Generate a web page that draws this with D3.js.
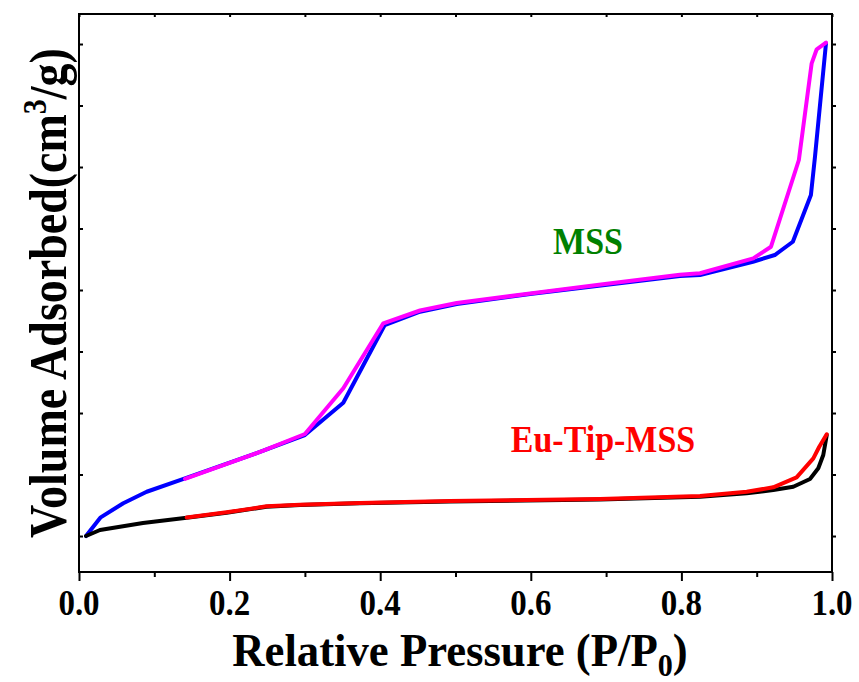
<!DOCTYPE html>
<html lang="en">
<head>
  <meta charset="utf-8">
  <title>N2 isotherms</title>
  <script src="https://d3js.org/d3.v7.min.js"></script>
  <style>
    body { margin: 0; background: #fff; }
    text { font-family: "Liberation Serif", "Times New Roman", serif; font-weight: bold; }
  </style>
</head>
<body>
<script>
// MSS adsorption branch (blue)
var mssAdsP = [0.0093, 0.0288, 0.0588, 0.0899, 0.1408, 0.2448, 0.300, 0.351, 0.406, 0.4529, 0.5016, 0.599, 0.6985, 0.798, 0.8247, 0.895, 0.924, 0.948, 0.972, 0.9774, 0.992];
var mssAdsV = [0, 30.4, 53.2, 72.0, 93.8, 138.7, 164.2, 216.7, 343.1, 364.7, 377.2, 393.5, 408.1, 422.8, 424.4, 446, 456.9, 478.5, 554.5, 616.7, 801.1];
// MSS desorption branch (magenta)
var mssDesP = [0.992, 0.9797, 0.973, 0.956, 0.919, 0.8955, 0.8247, 0.798, 0.6985, 0.599, 0.5016, 0.4529, 0.4041, 0.351, 0.300, 0.2448, 0.1408];
var mssDesV = [802.1, 791.4, 768.6, 611.4, 470.4, 451.5, 427.2, 425, 409.8, 394.3, 378.9, 366.7, 345.9, 240.2, 165.9, 138.7, 93];
// Eu-Tip-MSS adsorption branch (black)
var euAdsP = [0.0093, 0.0279, 0.085, 0.143, 0.196, 0.249, 0.2935, 0.373, 0.4927, 0.692, 0.8247, 0.8867, 0.922, 0.9486, 0.9708, 0.9818, 0.9884, 0.993];
var euAdsV = [0, 9.8, 21.1, 29.8, 37.9, 47.6, 50.4, 53.2, 56.1, 59.3, 63.9, 69.4, 74.8, 80.2, 92.7, 110.1, 131.7, 164.2];
// Eu-Tip-MSS desorption branch (red)
var euDesP = [0.993, 0.9831, 0.9752, 0.953, 0.922, 0.8867, 0.8247, 0.692, 0.4927, 0.373, 0.2935, 0.249, 0.196, 0.143];
var euDesV = [165.4, 145.2, 126.3, 95.4, 79.2, 72.0, 65.0, 60.2, 56.9, 53.7, 50.9, 48.3, 38.5, 30.1];

var xTicks = [0, 0.2, 0.4, 0.6, 0.8, 1.0];
var xMinorTicks = [0.1, 0.3, 0.5, 0.7, 0.9];
var yTicks = [0, 100, 200, 300, 400, 500, 600, 700, 800];

var width = 859, height = 682;
var margin = {top: 14, right: 27, bottom: 110, left: 79};

var svg = d3.select("body").append("svg")
  .attr("width", width)
  .attr("height", height);

var x = d3.scaleLinear().domain([0, 1]).range([margin.left, width - margin.right]);
var y = d3.scaleLinear().domain([-58.5, 848.8]).range([height - margin.bottom, margin.top]);

function zip(px, pv) {
  return px.map(function(p, i) { return [p, pv[i]]; });
}

var line = d3.line()
  .x(function(d) { return x(d[0]); })
  .y(function(d) { return y(d[1]); });

var series = [
  {data: zip(mssAdsP, mssAdsV), color: "#0000ff"},
  {data: zip(mssDesP, mssDesV), color: "#ff00ff"},
  {data: zip(euAdsP, euAdsV), color: "#000000"},
  {data: zip(euDesP, euDesV), color: "#ff0000"}
];

svg.selectAll("path.curve")
  .data(series)
  .enter()
  .append("path")
  .attr("class", "curve")
  .attr("d", function(d) { return line(d.data); })
  .attr("fill", "none")
  .attr("stroke", function(d) { return d.color; })
  .attr("stroke-width", 4)
  .attr("stroke-linejoin", "round")
  .attr("stroke-linecap", "round");

// axes (frame + ticks)
var x0 = x(0), x1 = x(1), yb = y.range()[0], yt = y.range()[1];

var bottom = svg.append("g").attr("transform", "translate(0," + yb + ")");
bottom.call(d3.axisBottom(x).tickValues(xTicks).tickSize(9).tickFormat(""));
bottom.append("g").call(d3.axisBottom(x).tickValues(xMinorTicks).tickSize(5).tickFormat(""));

svg.append("g").attr("transform", "translate(0," + yt + ")")
  .call(d3.axisBottom(x).tickValues(xTicks.concat(xMinorTicks)).tickSize(3).tickFormat(""));

svg.append("g").attr("transform", "translate(" + x0 + ",0)")
  .call(d3.axisRight(y).tickValues(yTicks).tickSize(4).tickFormat(""));

svg.append("g").attr("transform", "translate(" + x1 + ",0)")
  .call(d3.axisRight(y).tickValues(yTicks).tickSize(4).tickFormat(""));

svg.selectAll(".domain").remove();
svg.selectAll(".tick line").attr("stroke", "#000").attr("stroke-width", 2);

svg.append("rect")
  .attr("x", x0).attr("y", yt)
  .attr("width", x1 - x0).attr("height", yb - yt)
  .attr("fill", "none").attr("stroke", "#000").attr("stroke-width", 2);

// tick labels
svg.selectAll("text.xlab")
  .data(xTicks)
  .enter()
  .append("text")
  .attr("class", "xlab")
  .attr("transform", function(d) { return "translate(" + x(d) + ",615) scale(1,1.1)"; })
  .attr("text-anchor", "middle")
  .attr("font-size", "33px")
  .text(function(d) { return d3.format(".1f")(d); });

// axis titles
var xt = svg.append("text")
  .attr("transform", "translate(460,666) scale(1.04,1.08)")
  .attr("text-anchor", "middle")
  .attr("font-size", "43px");
xt.append("tspan").text("Relative Pressure (P/P");
xt.append("tspan").attr("font-size", "29px").attr("dy", 9).text("0");
xt.append("tspan").attr("dy", -9).text(")");

var yt2 = svg.append("text")
  .attr("transform", "translate(66,293) rotate(-90) scale(1,1.15)")
  .attr("text-anchor", "middle")
  .attr("font-size", "46px");
yt2.append("tspan").text("Volume Adsorbed(cm");
yt2.append("tspan").attr("font-size", "30px").attr("dy", -17).text("3");
yt2.append("tspan").attr("dy", 17).text("/g)");

// series labels
svg.append("text")
  .attr("transform", "translate(588,254) scale(1,1.12)")
  .attr("text-anchor", "middle")
  .attr("font-size", "34px")
  .attr("fill", "#008000")
  .text("MSS");

svg.append("text")
  .attr("transform", "translate(603,452) scale(1,1.12)")
  .attr("text-anchor", "middle")
  .attr("font-size", "34px")
  .attr("fill", "#ff0000")
  .text("Eu-Tip-MSS");
</script>
</body>
</html>
